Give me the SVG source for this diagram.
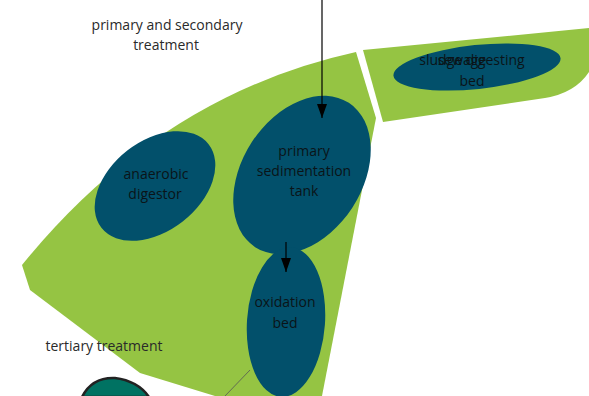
<svg xmlns="http://www.w3.org/2000/svg" width="589" height="396" viewBox="0 0 589 396">
<defs>
<marker id="ah" markerWidth="14" markerHeight="10" refX="14" refY="5" orient="auto" markerUnits="userSpaceOnUse" viewBox="0 0 14 10">
<path d="M0,0 L14,5 L0,10 Z" fill="#000"/>
</marker>
<style>
.zone{fill:#95c443}
.node{fill:#02506b}
.lbl{font-family:"Open Sans","DejaVu Sans",sans-serif;font-size:14px;fill:#0a1418;text-anchor:middle}
.cap{font-family:"Open Sans","DejaVu Sans",sans-serif;font-size:14px;fill:#2a2a2a;text-anchor:middle}
</style>
</defs>
<rect width="589" height="396" fill="#fff"/>
<g id="zone-main"><path class="zone" d="M22,265 Q160,95 356,52 L376,118 L322,396 L215,396 L140,373 L30,290 Z"/></g>
<g id="zone-right"><path class="zone" d="M363,50 L589,28 L589,72 Q575,93 545,98 L383,122 Z"/></g>
<text class="cap" x="167" y="30">primary and secondary</text>
<text class="cap" x="166" y="50">treatment</text>
<text class="cap" x="104" y="351">tertiary treatment</text>
<g id="sludge-bed">
<ellipse class="node" cx="477" cy="67" rx="84" ry="22" transform="rotate(-6 477 67)"/>
<text class="lbl" x="472" y="65">sludge digesting</text>
<text class="lbl" x="462" y="65">sewage</text>
<text class="lbl" x="472" y="86">bed</text>
</g>
<g id="anaerobic-digestor">
<ellipse class="node" cx="155" cy="186" rx="68" ry="45" transform="rotate(-38 155 186)"/>
<text class="lbl" x="156" y="179">anaerobic</text>
<text class="lbl" x="155" y="199">digestor</text>
</g>
<g id="primary-tank">
<ellipse class="node" cx="302" cy="175" rx="86" ry="60" transform="rotate(-57 302 175)"/>
<text class="lbl" x="304" y="156">primary</text>
<text class="lbl" x="304" y="176">sedimentation</text>
<text class="lbl" x="304" y="196">tank</text>
</g>
<g id="oxidation-bed">
<ellipse class="node" cx="286" cy="322" rx="39" ry="75" transform="rotate(4 286 322)"/>
<text class="lbl" x="285" y="307">oxidation</text>
<text class="lbl" x="285" y="328">bed</text>
</g>
<g id="tertiary-node">
<path d="M82,397 Q92,377 115,378 Q138,381 149,397 Z" fill="#007262" stroke="#222" stroke-width="2.5"/>
</g>
<g id="connectors" fill="none">
<line x1="322" y1="0" x2="322" y2="118" stroke="#000" stroke-width="1.2" marker-end="url(#ah)"/>
<line x1="286" y1="242" x2="286" y2="272" stroke="#000" stroke-width="1.2" marker-end="url(#ah)"/>
<line x1="250" y1="370" x2="225" y2="396" stroke="#555" stroke-width="0.8"/>
</g>
</svg>
